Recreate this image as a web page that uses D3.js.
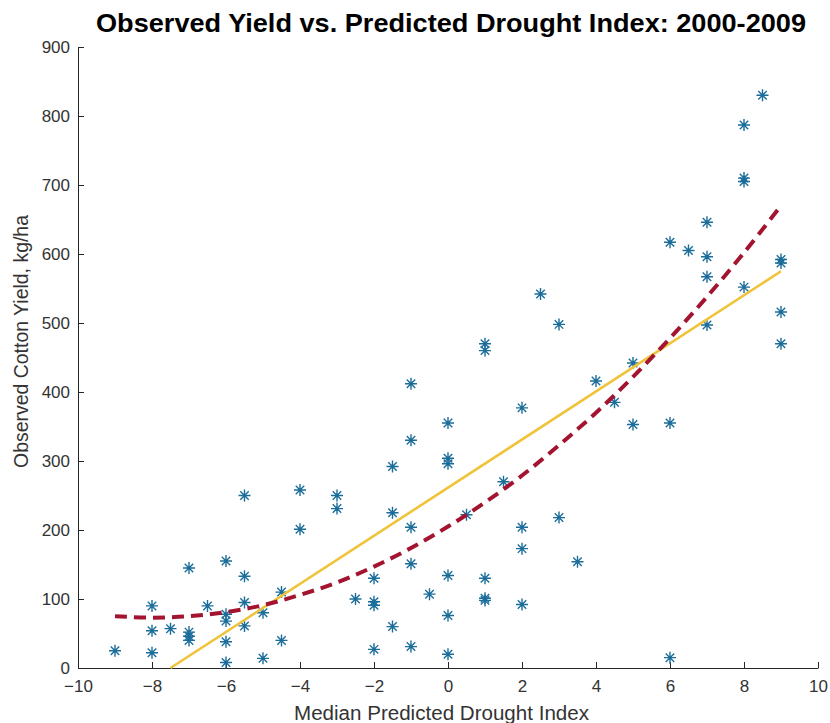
<!DOCTYPE html>
<html lang="en">
<head>
<meta charset="UTF-8">
<script src="https://d3js.org/d3.v7.min.js"></script>
<title>Observed Yield vs. Predicted Drought Index</title>
<style>
    body { margin: 0; background: #fff; }
    svg text { font-family: "Liberation Sans", Arial, Helvetica, sans-serif; }
    .axis path, .axis line { stroke: #262626; stroke-width: 1; }
    .axis text { fill: #333; font-size: 17px; }
    .star { fill: none; stroke: #1b6d9a; stroke-width: 1.4; }
    .linfit { fill: none; stroke: #efc33a; stroke-width: 2.6; }
    .quadfit { fill: none; stroke: #a2142f; stroke-width: 4; stroke-dasharray: 12 7; }
</style>
</head>
<body>
<svg id="chart" width="830" height="723">
    <g class="xaxis axis"></g>
    <g class="yaxis axis"></g>
    <g class="points"></g>
    <g class="fits"></g>
    <g class="labels"></g>
</svg>
<script>
// scatter: median predicted drought index vs observed cotton yield (kg/ha)
var droughtIdx = [-9, -8, -8, -8, -7.5, -7, -7, -7, -7, -6.5,
                  -6, -6, -6, -6, -6, -5.5, -5.5, -5.5, -5.5, -5,
                  -5, -4.5, -4.5, -4, -4, -3, -3, -2.5, -2, -2,
                  -2, -2, -1.5, -1.5, -1.5, -1, -1, -1, -1, -1,
                  -0.5, 0, 0, 0, 0, 0, 0, 0.5, 1, 1,
                  1, 1, 1, 1.5, 2, 2, 2, 2, 2.5, 3,
                  3, 3.5, 4, 4.5, 5, 5, 6, 6, 6, 6.5,
                  7, 7, 7, 7, 8.5, 8, 8, 8, 8, 9,
                  9, 9, 9];
var yieldObs = [25, 90, 54, 22, 57, 145, 52, 46, 40, 90,
                155, 78, 68, 38, 8, 250, 133, 95, 61, 80,
                14, 110, 40, 258, 201, 250, 231, 100, 130, 96,
                91, 27, 292, 225, 60, 412, 330, 204, 151, 31,
                107, 355, 304, 296, 134, 76, 20, 222, 470, 460,
                130, 101, 98, 270, 377, 204, 173, 92, 542, 498,
                218, 154, 416, 385, 442, 353, 617, 355, 15, 605,
                646, 596, 567, 497, 830, 787, 710, 705, 552, 592,
                587, 516, 470];

// linear fit (yellow), read at its two ends
var linX = [-7.5, 9];
var linY = [0, 575];

// quadratic fit (red dashed)
var quadX = [-9, -8, -7, -6, -5, -4, -3, -2, -1, 0, 1, 2, 3, 4, 5, 6, 7, 8, 9];
var quadY = [75, 73, 75, 81, 91, 106, 124, 147, 174, 205, 240, 279, 323, 370, 422, 478, 538, 602, 670];

var xTicks = [-10, -8, -6, -4, -2, 0, 2, 4, 6, 8, 10];
var yTicks = [0, 100, 200, 300, 400, 500, 600, 700, 800, 900];

var titleText = "Observed Yield vs. Predicted Drought Index: 2000-2009";
var xLabel = "Median Predicted Drought Index";
var yLabel = "Observed Cotton Yield, kg/ha";

var x = d3.scaleLinear().domain([-10, 10]).range([78, 818]);
var y = d3.scaleLinear().domain([0, 900]).range([668, 47]);

var svg = d3.select("#chart");

// axes, matlab style ticks pointing inward
svg.select("g.xaxis")
    .attr("transform", "translate(0,668)")
    .call(d3.axisBottom(x).tickValues(xTicks).tickSizeInner(-6).tickSizeOuter(0).tickPadding(12));

svg.select("g.yaxis")
    .attr("transform", "translate(78,0)")
    .call(d3.axisLeft(y).tickValues(yTicks).tickSizeInner(-6).tickSizeOuter(0).tickPadding(8));

// asterisk marker (+ and x)
function starPath(r) {
    var d = r * 0.7071;
    return "M" + (-r) + ",0L" + r + ",0M0," + (-r) + "L0," + r +
           "M" + (-d) + "," + (-d) + "L" + d + "," + d +
           "M" + (-d) + "," + d + "L" + d + "," + (-d);
}

var pts = droughtIdx.map(function(d, i) { return {x: d, y: yieldObs[i]}; });

svg.select("g.points")
    .selectAll("path.star")
    .data(pts)
    .join("path")
    .classed("star", true)
    .attr("d", starPath(6))
    .attr("transform", function(d) { return "translate(" + x(d.x) + "," + y(d.y) + ")"; });

// fit lines
var line = d3.line().x(function(d) { return x(d[0]); }).y(function(d) { return y(d[1]); });

svg.select("g.fits").append("path")
    .classed("linfit", true)
    .attr("d", line(linX.map(function(d, i) { return [d, linY[i]]; })));

svg.select("g.fits").append("path")
    .classed("quadfit", true)
    .attr("d", line.curve(d3.curveCatmullRom)(quadX.map(function(d, i) { return [d, quadY[i]]; })));

// title and axis labels
var labels = svg.select("g.labels");

labels.append("text")
    .text(titleText)
    .attr("x", 451)
    .attr("y", 32)
    .attr("text-anchor", "middle")
    .attr("textLength", 710)
    .attr("lengthAdjust", "spacingAndGlyphs")
    .style("font-weight", "bold")
    .style("font-size", "26px")
    .style("fill", "#000");

labels.append("text")
    .text(xLabel)
    .attr("x", 441.5)
    .attr("y", 720)
    .attr("text-anchor", "middle")
    .attr("textLength", 295)
    .attr("lengthAdjust", "spacingAndGlyphs")
    .style("font-size", "20px")
    .style("fill", "#333");

labels.append("text")
    .text(yLabel)
    .attr("transform", "translate(28,341.5) rotate(-90)")
    .attr("text-anchor", "middle")
    .attr("textLength", 253)
    .attr("lengthAdjust", "spacingAndGlyphs")
    .style("font-size", "20px")
    .style("fill", "#333");
</script>
</body>
</html>
